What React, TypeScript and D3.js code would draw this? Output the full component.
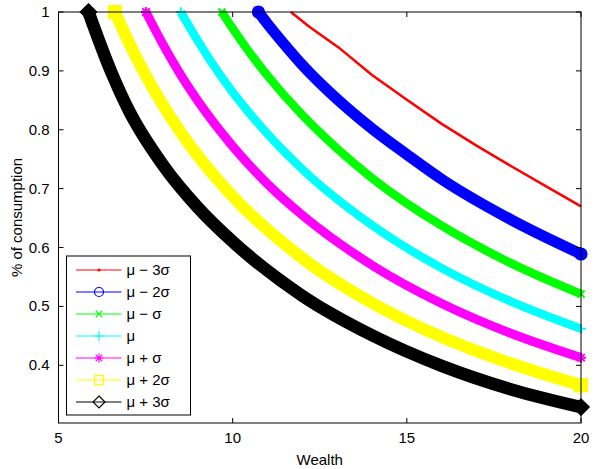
import React from 'react';
import * as d3 from 'd3';

// axis ticks
const xTicks = [5, 10, 15, 20];
const yTicks = [0.4, 0.5, 0.6, 0.7, 0.8, 0.9, 1];

// legend order = plotting order
const seriesNames = ['μ − 3σ', 'μ − 2σ', 'μ − σ', 'μ', 'μ + σ', 'μ + 2σ', 'μ + 3σ'];
const seriesColors = ['#ff0000', '#0000ff', '#00ff00', '#00ffff', '#ff00ff', '#ffff00', '#000000'];
const seriesMarkers = ['dot', 'circle', 'x', 'plus', 'star', 'square', 'diamond'];

// values
const wealthM3 = [11.67, 12.2, 13.1, 14.0, 15.0, 16.0, 17.0, 18.0, 19.0, 20];
const shareM3 = [1, 0.975, 0.937, 0.893, 0.851, 0.81, 0.773, 0.738, 0.704, 0.67];

const wealthM2 = [10.74, 11, 11.5, 12, 13, 14, 15, 16, 18, 20];
const shareM2 = [1, 0.98, 0.944, 0.91, 0.852, 0.802, 0.758, 0.716, 0.647, 0.589];

const wealthM1 = [9.69, 10, 10.5, 11, 12, 13, 14, 16, 18, 20];
const shareM1 = [1, 0.972, 0.93, 0.892, 0.825, 0.768, 0.718, 0.637, 0.573, 0.521];

const wealthMu = [8.51, 9, 9.5, 10, 11, 12, 14, 16, 18, 20];
const shareMu = [1, 0.951, 0.905, 0.864, 0.793, 0.733, 0.638, 0.565, 0.508, 0.462];

const wealthP1 = [7.51, 8, 8.5, 9, 10, 11, 12, 14, 16, 18, 20];
const shareP1 = [1, 0.945, 0.894, 0.849, 0.772, 0.708, 0.655, 0.57, 0.505, 0.454, 0.413];

const wealthP2 = [6.62, 7, 7.5, 8, 9, 10, 12, 14, 16, 18, 20];
const shareP2 = [1, 0.951, 0.893, 0.842, 0.756, 0.687, 0.582, 0.506, 0.448, 0.403, 0.366];

const wealthP3 = [5.86, 6.5, 7, 8, 9, 10, 12, 14, 16, 18, 20];
const shareP3 = [1, 0.9, 0.835, 0.74, 0.668, 0.61, 0.518, 0.451, 0.399, 0.359, 0.329];

const allWealth = [wealthM3, wealthM2, wealthM1, wealthMu, wealthP1, wealthP2, wealthP3];
const allShare = [shareM3, shareM2, shareM1, shareMu, shareP1, shareP2, shareP3];
const lineWidths = [2.5, 11, 8.5, 8.5, 9, 12, 12.5];

const W = 595;
const H = 469;
const left = 58.5;
const right = 581;
const top = 12;
const bottom = 423;
const font = '"Liberation Sans", Arial, Helvetica, sans-serif';
const fs = 15;

function Marker({ type, x, y, s, color, solid }) {
    const sw = 1.2;
    if (type === 'dot') {
        return <circle cx={x} cy={y} r={1.6} fill={color} />;
    }
    if (type === 'circle') {
        return <circle cx={x} cy={y} r={s} fill={solid ? color : 'none'} stroke={color} strokeWidth={sw} />;
    }
    if (type === 'square') {
        return <rect x={x - s} y={y - s} width={2 * s} height={2 * s} fill={solid ? color : 'none'} stroke={color} strokeWidth={sw} />;
    }
    if (type === 'diamond') {
        const pts = [[x, y - s], [x + s, y], [x, y + s], [x - s, y]].map(p => p.join(',')).join(' ');
        return <polygon points={pts} fill={solid ? color : 'none'} stroke={color} strokeWidth={sw} />;
    }
    const d = s * 0.75;
    const plus = `M${x - s},${y}H${x + s}M${x},${y - s}V${y + s}`;
    const cross = `M${x - d},${y - d}L${x + d},${y + d}M${x - d},${y + d}L${x + d},${y - d}`;
    let path = cross;
    if (type === 'plus') path = plus;
    if (type === 'star') path = plus + cross;
    return <path d={path} stroke={color} strokeWidth={solid ? 2 : sw} fill="none" />;
}

export default function App() {
    const x = d3.scaleLinear().domain([5, 20]).range([left, right]);
    const y = d3.scaleLinear().domain([0.302, 1]).range([bottom, top]);

    const smooth = d3.line().x(d => x(d[0])).y(d => y(d[1])).curve(d3.curveMonotoneX);
    const straight = d3.line().x(d => x(d[0])).y(d => y(d[1]));

    const tickLen = 5;
    const legendX = 66.5;
    const legendY = 256;
    const legendW = 124;
    const legendH = 159;
    const rowH = 22;

    return (
        <svg width={W} height={H} style={{ position: 'absolute', left: 0, top: 0, background: '#fff' }}>
            <rect x={0} y={0} width={W} height={H} fill="#fff" />
            {/* curves */}
            {allWealth.map((ws, i) => {
                const pts = ws.map((w, j) => [w, allShare[i][j]]);
                const gen = i === 0 ? straight : smooth;
                const first = pts[0];
                const last = pts[pts.length - 1];
                const ms = lineWidths[i] / 2 + 0.5;
                return (
                    <g key={i}>
                        <path d={gen(pts)} fill="none" stroke={seriesColors[i]} strokeWidth={lineWidths[i]} strokeLinejoin="round" />
                        {i > 0 && [first, last].map((p, k) => (
                            <Marker key={k} type={seriesMarkers[i]} x={x(p[0])} y={y(p[1])}
                                s={seriesMarkers[i] === 'diamond' ? ms + 1.5 : ms} color={seriesColors[i]} solid />
                        ))}
                    </g>
                );
            })}

            {/* axes box */}
            <rect x={left} y={top} width={right - left} height={bottom - top} fill="none" stroke="#000" strokeWidth={1} />
            {xTicks.map(t => (
                <g key={'x' + t}>
                    <line x1={x(t)} x2={x(t)} y1={bottom} y2={bottom - tickLen} stroke="#000" />
                    <line x1={x(t)} x2={x(t)} y1={top} y2={top + tickLen} stroke="#000" />
                    <text x={x(t)} y={443} textAnchor="middle" fontFamily={font} fontSize={fs}>{t}</text>
                </g>
            ))}
            {yTicks.map(t => (
                <g key={'y' + t}>
                    <line x1={left} x2={left + tickLen} y1={y(t)} y2={y(t)} stroke="#000" />
                    <line x1={right} x2={right - tickLen} y1={y(t)} y2={y(t)} stroke="#000" />
                    <text x={left - 9} y={y(t) + 5} textAnchor="end" fontFamily={font} fontSize={fs}>{t}</text>
                </g>
            ))}
            <text x={(left + right) / 2} y={465} textAnchor="middle" fontFamily={font} fontSize={fs}>Wealth</text>
            <text transform={`translate(22,${(top + bottom) / 2}) rotate(-90)`} textAnchor="middle" fontFamily={font} fontSize={fs}>% of consumption</text>

            {/* legend */}
            <rect x={legendX} y={legendY} width={legendW} height={legendH} fill="#fff" stroke="#000" strokeWidth={1} />
            {seriesNames.map((name, i) => {
                const ry = legendY + 14 + i * rowH;
                return (
                    <g key={name}>
                        <line x1={legendX + 9.5} x2={legendX + 55} y1={ry} y2={ry} stroke={seriesColors[i]} strokeWidth={1} />
                        <Marker type={seriesMarkers[i]} x={legendX + 32.5} y={ry}
                            s={seriesMarkers[i] === 'diamond' ? 6 : seriesMarkers[i] === 'plus' ? 5 : 4.5}
                            color={seriesColors[i]} solid={false} />
                        <text x={legendX + 60} y={ry + 5} fontFamily={font} fontSize={fs}>{name}</text>
                    </g>
                );
            })}
        </svg>
    );
}
